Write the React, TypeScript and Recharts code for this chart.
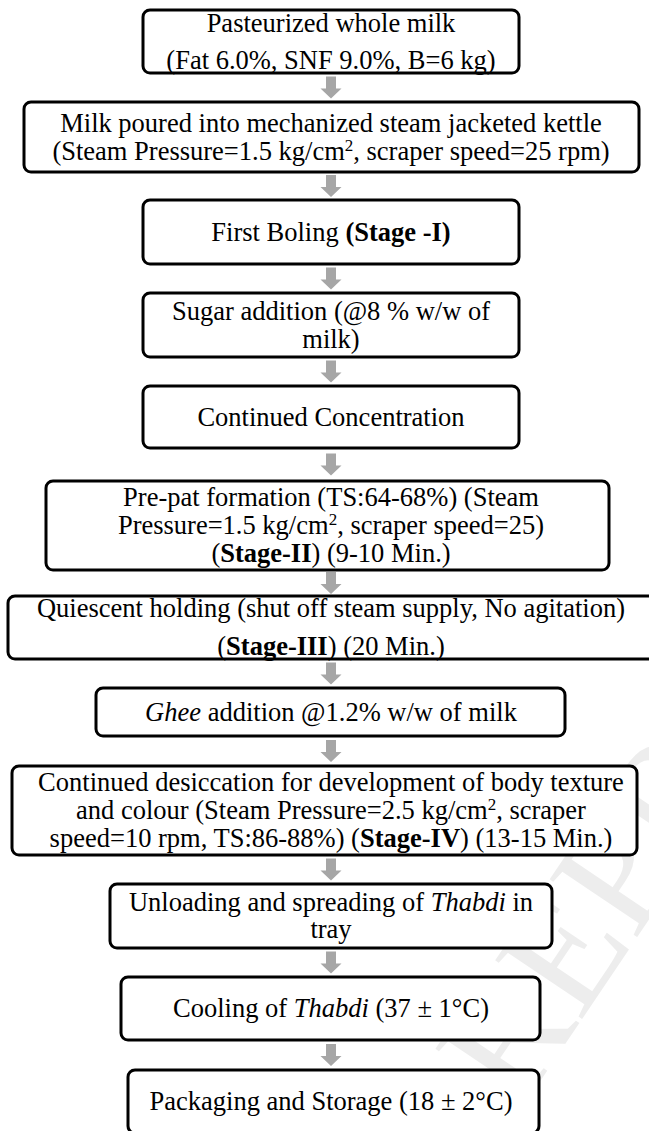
import React from 'react';
import { ScatterChart, Scatter, XAxis, YAxis } from 'recharts';

type Seg = [string, ('n' | 'b' | 'i' | 'sup')?];

// Text of each step in the flow, line by line (segments carry bold / italic / superscript)
const stepLines: Seg[][][] = [
  [[['Pasteurized whole milk']], [['(Fat 6.0%, SNF 9.0%, B=6 kg)']]],
  [
    [['Milk poured into mechanized steam jacketed kettle']],
    [['(Steam Pressure=1.5 kg/cm'], ['2', 'sup'], [', scraper speed=25 rpm)']],
  ],
  [[['First Boling '], ['(Stage -I)', 'b']]],
  [[['Sugar addition (@8 % w/w of']], [['milk)']]],
  [[['Continued Concentration']]],
  [
    [['Pre-pat formation (TS:64-68%) (Steam']],
    [['Pressure=1.5 kg/cm'], ['2', 'sup'], [', scraper speed=25)']],
    [['('], ['Stage-II', 'b'], [') (9-10 Min.)']],
  ],
  [
    [['Quiescent holding (shut off steam supply, No agitation)']],
    [['('], ['Stage-III', 'b'], [') (20 Min.)']],
  ],
  [[['Ghee', 'i'], [' addition @1.2% w/w of milk']]],
  [
    [['Continued desiccation for development of body texture']],
    [['and colour (Steam Pressure=2.5 kg/cm'], ['2', 'sup'], [', scraper']],
    [['speed=10 rpm, TS:86-88%) ('], ['Stage-IV', 'b'], [') (13-15 Min.)']],
  ],
  [[['Unloading and spreading of '], ['Thabdi', 'i'], [' in']], [['tray']]],
  [[['Cooling of '], ['Thabdi', 'i'], [' (37 \u00b1 1\u00b0C)']]],
  [[['Packaging and Storage (18 \u00b1 2\u00b0C)']]],
];

// box layout (chart units = px)
const boxLeft = [143, 24, 143, 143, 143, 46, 8, 96, 12, 110, 121, 128];
const boxRight = [519, 639, 519, 519, 519, 609, 655, 565, 637, 552, 540, 539];
const boxTop = [10, 102, 200, 293, 386, 481, 596, 688, 766, 884, 977, 1070];
const boxBottom = [73, 172, 264, 357, 448, 570, 659, 736, 855, 948, 1040, 1133];
const lineGap = [37, 28, 28, 28, 28, 28, 38, 28, 28, 27, 28, 28];

const W = 649;
const H = 1131;
const TEXT_X = 331;
const FONT = '"Liberation Serif", "Times New Roman", serif';

const boxData = stepLines.map((lines, i) => ({
  x: (boxLeft[i] + boxRight[i]) / 2,
  y: (boxTop[i] + boxBottom[i]) / 2,
  w: boxRight[i] - boxLeft[i],
  h: boxBottom[i] - boxTop[i],
  gap: lineGap[i],
  lines,
}));

const arrowData = boxTop.slice(1).map((t, i) => ({
  x: TEXT_X,
  y: (boxBottom[i] + t) / 2,
}));

const renderLine = (segs: Seg[], key: number, x: number, y: number) => {
  const out: React.ReactNode[] = [];
  let raise = false;
  segs.forEach(([txt, st], j) => {
    if (st === 'sup') {
      out.push(
        <tspan key={j} dy={-9} fontSize={17}>
          {txt}
        </tspan>
      );
      raise = true;
      return;
    }
    out.push(
      <tspan
        key={j}
        dy={raise ? 9 : undefined}
        fontWeight={st === 'b' ? 'bold' : undefined}
        fontStyle={st === 'i' ? 'italic' : undefined}
      >
        {txt}
      </tspan>
    );
    raise = false;
  });
  return (
    <text key={key} x={x} y={y} textAnchor="middle" fontFamily={FONT} fontSize={26.5} fill="#000">
      {out}
    </text>
  );
};

const BoxShape = (props: any) => {
  const { cx, cy, payload } = props;
  const n = payload.lines.length;
  const first = cy + 8.5 - ((n - 1) * payload.gap) / 2;
  return (
    <g>
      <rect
        x={cx - payload.w / 2}
        y={cy - payload.h / 2}
        width={payload.w}
        height={payload.h}
        rx={7}
        ry={7}
        fill="#fff"
        stroke="#000"
        strokeWidth={3}
      />
      {payload.lines.map((segs: Seg[], k: number) =>
        renderLine(segs, k, TEXT_X - (payload.x - cx), first + k * payload.gap)
      )}
    </g>
  );
};

const ArrowShape = (props: any) => {
  const { cx, cy } = props;
  const top = cy - 11;
  const mid = cy + 1;
  const tip = cy + 11;
  const d = `M${cx - 5},${top} L${cx + 5},${top} L${cx + 5},${mid} L${cx + 10.5},${mid} L${cx},${tip} L${cx - 10.5},${mid} L${cx - 5},${mid} Z`;
  return <path d={d} fill="#a6a6a6" />;
};

export default function App() {
  return (
    <div style={{ width: W, height: H, position: 'relative', background: '#fff' }}>
      <style>{`body{margin:0;background:#fff}`}</style>
      <svg width={W} height={H} style={{ position: 'absolute', left: 0, top: 0 }}>
        {/* faint watermark in the lower right corner */}
        <text
          x={0}
          y={0}
          transform="translate(470,1185) rotate(-56)"
          fontFamily={FONT}
          fontSize={160}
          fill="#ededed"
        >
          PREPRINT
        </text>
      </svg>
      <div style={{ position: 'absolute', left: 0, top: 0 }}>
        <ScatterChart width={W} height={H} margin={{ top: 0, right: 0, bottom: 0, left: 0 }}>
          <XAxis type="number" dataKey="x" domain={[0, W]} hide />
          <YAxis type="number" dataKey="y" domain={[0, H]} reversed hide />
          <Scatter data={arrowData} shape={<ArrowShape />} isAnimationActive={false} />
          <Scatter data={boxData} shape={<BoxShape />} isAnimationActive={false} />
        </ScatterChart>
      </div>
    </div>
  );
}
